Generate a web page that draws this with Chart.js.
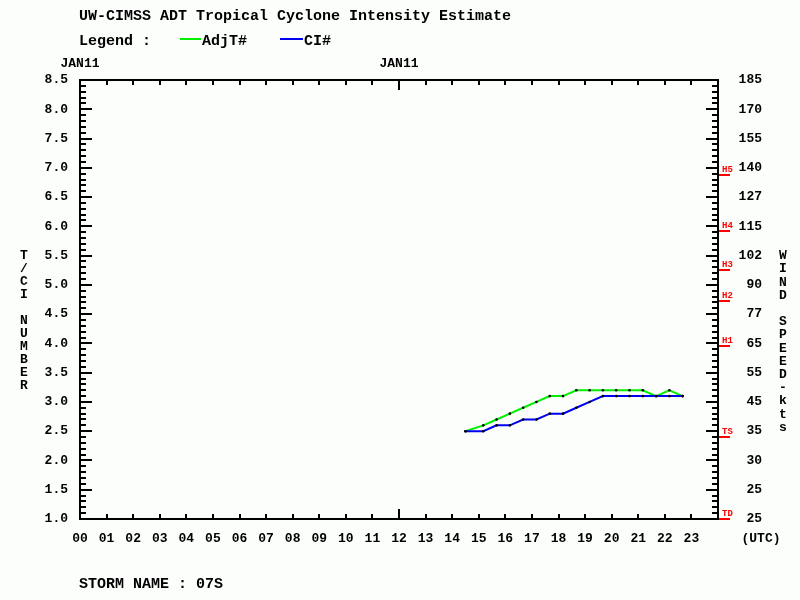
<!DOCTYPE html>
<html>
<head>
<meta charset="utf-8">
<script src="https://cdn.jsdelivr.net/npm/chart.js@4.4.0/dist/chart.umd.min.js"></script>
<style>
  html, body { margin: 0; padding: 0; background: #fcfefc; }
  canvas { display: block; }
</style>
</head>
<body>
<canvas id="adtChart" width="800" height="600"></canvas>
<script>
// hours (UTC) of each estimate
const hoursUtc = [14.5, 15.17, 15.67, 16.17, 16.67, 17.17, 17.67, 18.17, 18.67, 19.17, 19.67, 20.17, 20.67, 21.17, 21.67, 22.17, 22.67];
const adjTnum = [2.5, 2.6, 2.7, 2.8, 2.9, 3.0, 3.1, 3.1, 3.2, 3.2, 3.2, 3.2, 3.2, 3.2, 3.1, 3.2, 3.1];
const ciNum   = [2.5, 2.5, 2.6, 2.6, 2.7, 2.7, 2.8, 2.8, 2.9, 3.0, 3.1, 3.1, 3.1, 3.1, 3.1, 3.1, 3.1];

// axis labels
const hourLabels = ['00','01','02','03','04','05','06','07','08','09','10','11','12','13','14','15','16','17','18','19','20','21','22','23'];
const dateHours = [0, 12];
const dateLabels = ['JAN11', 'JAN11'];
const windLabels = ['25','25','30','35','45','55','65','77','90','102','115','127','140','155','170','185']; // T# 1.0 .. 8.5

// intensity category marks on the right axis (as T# equivalents)
const markerLabels = ['TD', 'TS', 'H1', 'H2', 'H3', 'H4', 'H5'];
const markerValues = [1.0, 2.4, 3.95, 4.73, 5.25, 5.92, 6.88];

const FONT = '"Liberation Mono", "DejaVu Sans Mono", monospace';
const GREEN = '#00f000';
const BLUE = '#0000f0';

const pts = (ys) => ys.map((y, i) => ({ x: hoursUtc[i], y }));

// frame, inward ticks, titles and other text
const adtDecor = {
    id: 'adtDecor',
    afterDraw(chart) {
        const ctx = chart.ctx;
        const a = chart.chartArea;
        const x = chart.scales.x;
        const y = chart.scales.y;
        ctx.save();
        ctx.strokeStyle = '#000';
        ctx.fillStyle = '#000';
        ctx.lineWidth = 2;

        ctx.strokeRect(a.left, a.top, a.right - a.left, a.bottom - a.top);

        // y ticks (left and right, pointing in)
        ctx.beginPath();
        for (let i = 11; i < 85; i++) {
            const v = i / 10;
            const py = Math.round(y.getPixelForValue(v));
            const len = (i % 5 === 0) ? 12 : 6;
            ctx.moveTo(a.left, py); ctx.lineTo(a.left + len, py);
            ctx.moveTo(a.right, py); ctx.lineTo(a.right - len, py);
        }
        // x ticks (bottom and top)
        for (let h = 1; h < 24; h++) {
            const px = Math.round(x.getPixelForValue(h));
            const len = (h === 12) ? 10 : 5;
            ctx.moveTo(px, a.bottom); ctx.lineTo(px, a.bottom - len);
            ctx.moveTo(px, a.top); ctx.lineTo(px, a.top + len);
        }
        ctx.stroke();

        // category markers
        ctx.strokeStyle = '#ff0000';
        ctx.fillStyle = '#ff0000';
        ctx.font = 'bold 9px ' + FONT;
        ctx.textAlign = 'left';
        ctx.textBaseline = 'alphabetic';
        markerValues.forEach((v, i) => {
            const py = Math.round(y.getPixelForValue(v));
            ctx.beginPath();
            ctx.moveTo(a.right + 1, py); ctx.lineTo(a.right + 12, py);
            ctx.stroke();
            ctx.fillText(markerLabels[i], a.right + 4, py - 3);
        });

        ctx.fillStyle = '#000';
        // title + legend
        ctx.font = 'bold 15px ' + FONT;
        ctx.fillText('UW-CIMSS ADT Tropical Cyclone Intensity Estimate', 79, 20);
        ctx.fillText('Legend :', 79, 45);
        ctx.fillText('AdjT#', 202, 45);
        ctx.fillText('CI#', 304, 45);
        ctx.lineWidth = 2;
        ctx.strokeStyle = GREEN;
        ctx.beginPath(); ctx.moveTo(180, 39); ctx.lineTo(201, 39); ctx.stroke();
        ctx.strokeStyle = BLUE;
        ctx.beginPath(); ctx.moveTo(280, 39); ctx.lineTo(303, 39); ctx.stroke();

        // storm name
        ctx.fillText('STORM NAME : 07S', 79, 588);

        // (UTC)
        ctx.font = 'bold 13px ' + FONT;
        ctx.textAlign = 'center';
        ctx.textBaseline = 'middle';
        ctx.fillText('(UTC)', 761, 539);

        // vertical axis titles
        const stack = (text, cx, top, step) => {
            [...text].forEach((ch, i) => ctx.fillText(ch, cx, top + i * step));
        };
        stack('T/CI NUMBER', 24, 256, 13);
        stack('WIND SPEED-kts', 783, 256, 13.2);
        ctx.restore();
    }
};

new Chart(document.getElementById('adtChart'), {
    type: 'line',
    data: {
        datasets: [
            {
                label: 'AdjT#',
                data: pts(adjTnum),
                borderColor: GREEN,
                borderWidth: 2,
                pointRadius: 1.3,
                pointBackgroundColor: '#000',
                pointBorderWidth: 0,
                tension: 0,
                order: 2
            },
            {
                label: 'CI#',
                data: pts(ciNum),
                borderColor: BLUE,
                borderWidth: 2,
                pointRadius: 1.3,
                pointBackgroundColor: '#000',
                pointBorderWidth: 0,
                tension: 0,
                order: 1
            }
        ]
    },
    options: {
        responsive: false,
        animation: false,
        devicePixelRatio: 1,
        layout: { padding: { left: 0, right: 38, top: 0, bottom: 0 } },
        plugins: { legend: { display: false }, tooltip: { enabled: false } },
        scales: {
            x: {
                type: 'linear', position: 'bottom', min: 0, max: 24,
                afterFit: (s) => { s.height = 81; },
                afterBuildTicks: (s) => { s.ticks = hourLabels.map((_, i) => ({ value: i })); },
                grid: { display: false, drawTicks: false },
                border: { display: false },
                ticks: {
                    autoSkip: false, maxRotation: 0, padding: 12,
                    color: '#000', font: { family: FONT, size: 13, weight: 'bold' },
                    callback: (v) => hourLabels[Math.round(v)] ?? ''
                }
            },
            x2: {
                type: 'linear', position: 'top', min: 0, max: 24,
                afterFit: (s) => { s.height = 80; },
                afterBuildTicks: (s) => { s.ticks = dateHours.map((h) => ({ value: h })); },
                grid: { display: false, drawTicks: false },
                border: { display: false },
                ticks: {
                    autoSkip: false, maxRotation: 0, padding: 8,
                    color: '#000', font: { family: FONT, size: 13, weight: 'bold' },
                    callback: (v) => dateLabels[dateHours.indexOf(v)] ?? ''
                }
            },
            y: {
                type: 'linear', position: 'left', min: 1, max: 8.5,
                afterFit: (s) => { s.width = 80; },
                grid: { display: false, drawTicks: false },
                border: { display: false },
                ticks: {
                    stepSize: 0.5, padding: 12,
                    color: '#000', font: { family: FONT, size: 13, weight: 'bold' },
                    callback: (v) => Number(v).toFixed(1)
                }
            },
            y2: {
                type: 'linear', position: 'right', min: 1, max: 8.5,
                afterFit: (s) => { s.width = 44; },
                grid: { display: false, drawTicks: false },
                border: { display: false },
                ticks: {
                    stepSize: 0.5, crossAlign: 'far',
                    color: '#000', font: { family: FONT, size: 13, weight: 'bold' },
                    callback: (v) => windLabels[Math.round((v - 1) / 0.5)]
                }
            }
        }
    },
    plugins: [adtDecor]
});
</script>
</body>
</html>
